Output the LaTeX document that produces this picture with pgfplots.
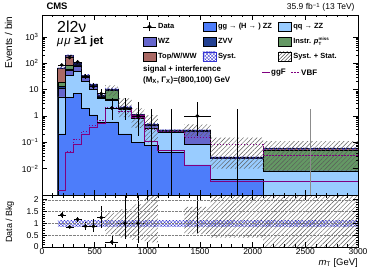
\documentclass[border=0pt]{standalone}
\usepackage{fontspec}
\setmainfont{Liberation Sans}
\usepackage{pgfplots}
\pgfplotsset{compat=1.18}
\usepackage{pgfplotstable}
\usetikzlibrary{patterns,patterns.meta}

\definecolor{ggzz}{RGB}{77,125,250}
\definecolor{qqzz}{RGB}{153,204,255}
\definecolor{wzc}{RGB}{102,102,204}
\definecolor{zvvc}{RGB}{34,64,145}
\definecolor{instr}{RGB}{100,152,100}
\definecolor{topc}{RGB}{170,105,100}
\definecolor{sigc}{RGB}{128,0,128}
\definecolor{systc}{RGB}{50,50,210}

\pgfplotstableread{
x     gg      qq      wz      zvv     ins     top
150   1e-5    1e-5    1e-5    1e-5    1e-5    1e-5
150   0.21    5.3     10.9    13.6    19.2    66
225   5.1     34      55      61      81      194
300   7.0     50      80      88      92      100
375   2.0     21      29      32      33      35
450   1.1     10.5    13.5    14.8    15.2    15.5
525   0.6     4.6     5.3     5.6     5.75    6.2
600   0.6     4.0     4.3     4.5     9.5     10.5
725   0.21    1.8     2.05    2.15    2.15    2.2
850   0.1     0.85    1.0     1.08    1.08    1.1
975   0.075   0.35    0.44    0.48    0.48    0.49
1100  0.043   0.25    0.27    0.28    0.28    0.28
1350  0.014   0.083   0.26    0.28    0.28    0.28
1600  0.004   0.025   0.025   0.026   0.026   0.026
2100  1e-5    0.0083  0.0083  0.0083  0.050   0.057
3000  1e-5    0.0083  0.0083  0.0083  0.050   0.057
3000  1e-5    1e-5    1e-5    1e-5    1e-5    1e-5
}\stack

\pgfplotstableread{
x     ggf     vbf
150   0.0015  0.0015
225   0.04    0.045
300   0.085   0.13
375   0.19    0.26
450   0.35    0.45
525   0.5     0.65
600   2.0     2.1
725   2.0     1.5
850   1.0     0.9
975   0.11    0.3
1100  0.05    0.25
1350  0.013   0.15
1600  0.0032  0.083
2100  0.0032  0.032
3000  0.0032  0.032
}\sig

% syst band (top panel): upper edge left->right, lower edge right->left
\pgfplotstableread{
x     y
150   72.6
225   213.4
300   110
375   38.5
450   17.05
525   6.82
600   11.55
725   2.42
850   1.21
975   0.539
1100  0.308
1350  0.308
1600  0.0286
2100  0.0627
3000  0.0627
3000  0.0513
2100  0.0234
1600  0.252
1350  0.252
1100  0.441
975   0.99
850   1.98
725   9.45
600   5.58
525   13.95
450   31.5
375   90
300   174.6
225   59.4
150   59.4
}\systtop

% syst+stat band (top panel)
\pgfplotstableread{
x     y
150   69.3
225   204
300   105
375   36.8
450   16.3
525   6.5
600   14.5
725   4.7
850   2.0
975   1.08
1100  0.31
1350  0.48
1600  0.15
2100  0.11
3000  0.11
3000  0.0083
2100  0.01
1600  0.17
1350  0.25
1100  0.1
975   0.35
850   0.9
725   5.8
600   5.9
525   14.7
450   33.2
375   95
300   184
225   62.7
150   62.7
}\tottop

\pgfplotstableread{
x     y
150   1.12
3000  1.12
3000  0.88
150   0.88
}\systratio

\pgfplotstableread{
x     y
600   1.45
725   1.6
850   1.8
975   2.3
1100  2.3
1100  0.2
975   0.3
850   0.4
725   0.55
600   0.55
}\totratioA

\pgfplotstableread{
x     y
1350  1.7
1600  2.3
2100  2.3
3000  2.3
3000  0
2100  0.4
1600  0.55
1350  0.55
}\totratioB

\pgfplotstableread{
x      y     em     ep     ex
187.5  86    9.3    10.3   37.5
262.5  165   12.8   13.9   37.5
337.5  112   10.6   11.6   37.5
412.5  31    5.5    6.6    37.5
487.5  13    3.6    4.7    37.5
562.5  7     2.6    3.8    37.5
662.5  2     1.29   2.64   62.5
787.5  2     1.29   2.64   62.5
912.5  1     0.83   2.3    62.5
1475   1     0.83   2.3    125
}\data

\pgfplotstableread{
x      y     em     ep     ex
187.5  1.36  0.15   0.16   37.5
262.5  0.85  0.065  0.07   37.5
337.5  1.17  0.11   0.12   37.5
412.5  0.88  0.16   0.19   37.5
487.5  0.88  0.24   0.31   37.5
562.5  1.24  0.44   0.50   37.5
662.5  0.21  0.14   0.28   62.5
787.5  1.0   0.65   1.32   62.5
912.5  1.0   0.83   2.3    62.5
}\ratio

\pgfplotsset{
  boxlegend/.style={legend image code/.code={\draw[##1] (0bp,-4.5bp) rectangle (13bp,4.5bp);}},
  datalegend/.style={legend image code/.code={
     \draw[black,line width=0.5bp] (0bp,0bp)--(13bp,0bp);
     \draw[black,line width=0.5bp] (6.5bp,-4.5bp)--(6.5bp,4.5bp);
     \fill[black] (6.5bp,0bp) circle (1.8bp);}},
  cmsaxis/.style={scale only axis, xmin=0, xmax=3000,
     tick align=inside, major tick length=5bp, minor tick length=2.5bp,
     axis line style={line width=0.6bp},
     every tick/.style={black, line width=0.5bp},
     tick label style={font=\fontsize{8.5}{9}\selectfont},
     /pgf/number format/assume math mode=true,
     xtick={0,500,1000,1500,2000,2500,3000}, minor x tick num=4,
     axis on top, scaled x ticks=false, scaled y ticks=false},
  stk/.style={draw=black, line width=0.45bp, forget plot},
  systpat/.style={pattern={Hatch[angle=45,distance=2.4bp,line width=0.35bp]}, pattern color=systc},
  totpat/.style={pattern={Lines[angle=45,distance=3.2bp,line width=0.45bp]}, pattern color=black!65}
}

\begin{document}
\begin{tikzpicture}
\useasboundingbox (0,0) rectangle (374bp,268bp);
\begin{axis}[cmsaxis, at={(42bp,73bp)}, anchor=south west, width=316bp, height=180bp,
  ymode=log, ymin=1e-3, ymax=6800, xticklabels={},
  ytick={0.01,0.1,1,10,100,1000},
  yticklabels={10\textsuperscript{−2},10\textsuperscript{−1},1,10,10\textsuperscript{2},10\textsuperscript{3}},
  legend columns=3, legend cell align=left,
  legend style={at={(0.318,0.966)}, anchor=north west, draw=none, fill=none,
    inner sep=0pt, font=\fontsize{7.5}{8.5}\selectfont\bfseries, row sep=3.5bp,
    /tikz/every even column/.append style={column sep=4bp}}]
\addlegendimage{datalegend}
\addlegendentry{Data}
\addlegendimage{boxlegend, fill=ggzz, draw=black, line width=0.4bp}
\addlegendentry{gg → (H → ) ZZ}
\addlegendimage{boxlegend, fill=qqzz, draw=black, line width=0.4bp}
\addlegendentry{qq → ZZ}
\addlegendimage{boxlegend, fill=wzc, draw=black, line width=0.4bp}
\addlegendentry{WZ}
\addlegendimage{boxlegend, fill=zvvc, draw=black, line width=0.4bp}
\addlegendentry{ZVV}
\addlegendimage{boxlegend, fill=instr, draw=black, line width=0.4bp}
\addlegendentry{Instr. \textit{p}$^{\mbox{\fontsize{4.5}{4.5}\selectfont miss}}_{\mbox{\fontsize{4.5}{4.5}\selectfont T}}$}
\addlegendimage{boxlegend, fill=topc, draw=black, line width=0.4bp}
\addlegendentry{Top/W/WW}
\addlegendimage{boxlegend, systpat, draw=systc, line width=0.4bp}
\addlegendentry{Syst.}
\addlegendimage{boxlegend, pattern={Lines[angle=45,distance=2.5bp,line width=0.45bp]}, pattern color=black!70, draw=black, line width=0.4bp}
\addlegendentry{Syst. + Stat.}

% stack
\addplot[stk, fill=topc, const plot, line width=0.8bp] table[x=x,y=top]{\stack};
\addplot[stk, fill=instr, const plot] table[x=x,y=ins]{\stack};
\addplot[stk, fill=zvvc, const plot] table[x=x,y=zvv]{\stack};
\addplot[stk, fill=wzc, const plot] table[x=x,y=wz]{\stack};
\addplot[stk, fill=qqzz, const plot] table[x=x,y=qq]{\stack};
\addplot[stk, fill=ggzz, const plot] table[x=x,y=gg]{\stack};

% bands
\addplot[draw=none, const plot, forget plot, systpat] table[x=x,y=y]{\systtop};
\addplot[draw=none, const plot, forget plot, totpat] table[x=x,y=y]{\tottop};

% signals
\addplot[sigc, line width=1bp, const plot, forget plot] table[x=x,y=ggf]{\sig};
\addplot[sigc, line width=1bp, const plot, dash pattern=on 1.5bp off 1.5bp, forget plot] table[x=x,y=vbf]{\sig};

% data
\addplot[black, line width=0.5bp, forget plot] coordinates {(1037.5,1e-5) (1037.5,1.84)};
\addplot[black, line width=0.5bp, forget plot] coordinates {(1225,1e-5) (1225,1.84)};
\addplot[black, line width=0.5bp, forget plot] coordinates {(1850,1e-5) (1850,1.84)};
\addplot[black!45, line width=0.8bp, forget plot] coordinates {(2550,1e-5) (2550,1.84)};
\addplot[black, only marks, mark=*, mark size=1.7bp, forget plot,
  error bars/.cd, x dir=both, x explicit, y dir=both, y explicit,
  error mark=none, error bar style={line width=0.5bp}]
  table[x=x, y=y, x error=ex, y error minus=em, y error plus=ep]{\data};
\end{axis}

\begin{axis}[cmsaxis, at={(42bp,21bp)}, anchor=south west, width=316bp, height=52bp,
  ymin=0, ymax=2.2, ytick={0,0.5,1,1.5,2}, yticklabels={0,0.5,1,1.5,2}, minor y tick num=4,
  xticklabels={0,500,1000,1500,2000,2500,3000\hspace{7bp}},
  xticklabel style={yshift=1.5bp},
  ymajorgrids, grid style={densely dotted, black!50, line width=0.4bp}]
\addplot[draw=none, forget plot, systpat] table[x=x,y=y]{\systratio};
\addplot[draw=none, const plot, forget plot, totpat] table[x=x,y=y]{\totratioA};
\addplot[draw=none, const plot, forget plot, totpat] table[x=x,y=y]{\totratioB};
\addplot[black, line width=0.5bp, forget plot] coordinates {(1475,0.6) (1475,2.5)};
\addplot[black, only marks, mark=*, mark size=1.7bp, forget plot,
  error bars/.cd, x dir=both, x explicit, y dir=both, y explicit,
  error mark=none, error bar style={line width=0.5bp}]
  table[x=x, y=y, x error=ex, y error minus=em, y error plus=ep]{\ratio};
\end{axis}

\node[anchor=base west, font=\fontsize{9.5}{10}\selectfont\bfseries] at (43bp,258bp) {CMS};
\node[anchor=base east, font=\fontsize{8.5}{9}\selectfont] at (358bp,258bp) {35.9 fb\textsuperscript{−1} (13 TeV)};
\node[anchor=base west, inner sep=0pt, font=\fontsize{16}{16}\selectfont] at (57bp,235.8bp) {2l2ν};
\node[anchor=base west, inner sep=0pt, font=\fontsize{11.5}{12}\selectfont] at (57bp,223.5bp) {\textit{μ\kern1bp μ}\hspace{3.5bp}\textbf{≥1 jet}};
\node[rotate=90, anchor=base east, font=\fontsize{10}{10}\selectfont] at (12bp,255bp) {Events / bin};
\node[rotate=90, anchor=base, font=\fontsize{9}{9}\selectfont] at (12bp,46bp) {Data / Bkg};
\node[anchor=base east, inner sep=0pt, font=\fontsize{9.5}{10}\selectfont] at (358bp,2.5bp) {\textit{m}\textsubscript{T} [GeV]};
\node[anchor=west, inner sep=0pt, font=\fontsize{8}{9}\selectfont\bfseries] at (143bp,199bp) {signal + interference};
\node[anchor=west, inner sep=0pt, font=\fontsize{8}{9}\selectfont\bfseries] at (143bp,188bp) {(M\textsubscript{X}, Γ\textsubscript{X})=(800,100) GeV};
\draw[sigc, line width=1.2bp] (262bp,195.5bp) -- (270bp,195.5bp);
\node[anchor=west, inner sep=1pt, font=\fontsize{8}{9}\selectfont\bfseries] at (270bp,195.5bp) {ggF};
\draw[sigc, line width=1bp, dash pattern=on 1.5bp off 1.5bp] (291bp,195.5bp) -- (300bp,195.5bp);
\node[anchor=west, inner sep=1pt, font=\fontsize{8}{9}\selectfont\bfseries] at (300bp,195.5bp) {VBF};
\end{tikzpicture}
\end{document}
